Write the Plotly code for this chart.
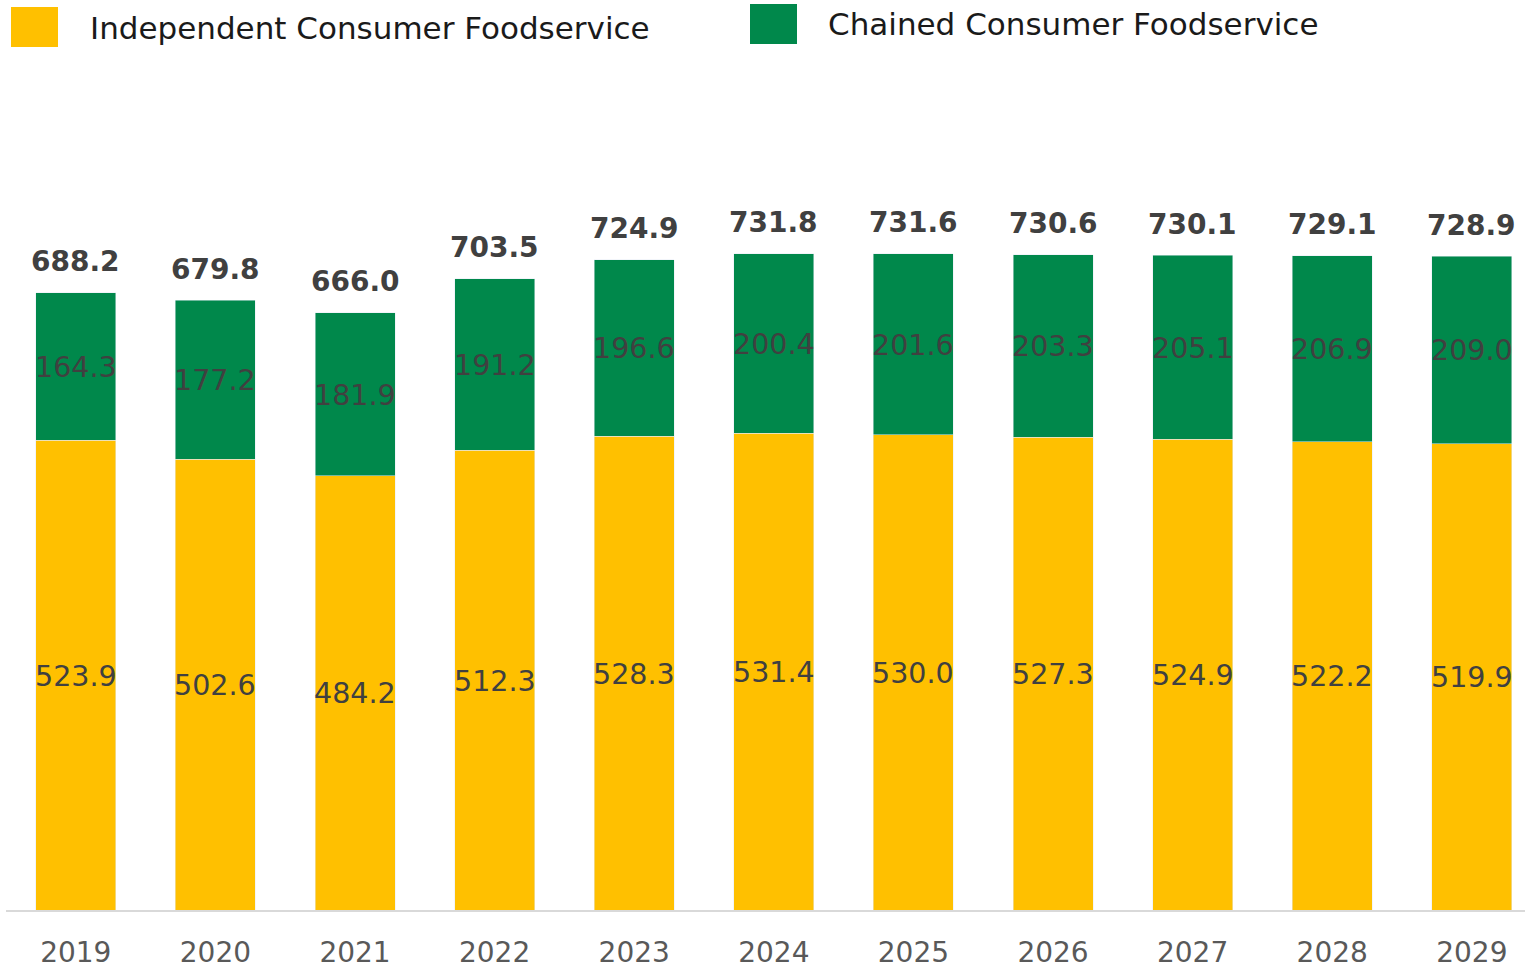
import plotly.graph_objects as go

years = ["2019", "2020", "2021", "2022", "2023", "2024", "2025", "2026", "2027", "2028", "2029"]
independent = [523.9, 502.6, 484.2, 512.3, 528.3, 531.4, 530.0, 527.3, 524.9, 522.2, 519.9]
chained = [164.3, 177.2, 181.9, 191.2, 196.6, 200.4, 201.6, 203.3, 205.1, 206.9, 209.0]
totals = [688.2, 679.8, 666.0, 703.5, 724.9, 731.8, 731.6, 730.6, 730.1, 729.1, 728.9]

YELLOW = "#FFC000"
GREEN = "#00884B"
LABEL = "#404040"
FONT = "DejaVu Sans"

x_idx = list(range(len(years)))

fig = go.Figure()
fig.add_trace(go.Bar(x=x_idx, y=independent, marker_color=YELLOW, width=0.573,
                     name="Independent Consumer Foodservice", showlegend=False))
fig.add_trace(go.Bar(x=x_idx, y=chained, marker_color=GREEN, width=0.573,
                     name="Chained Consumer Foodservice", showlegend=False))

# segment value labels at the middle of each stacked segment
for i, (a, b) in enumerate(zip(independent, chained)):
    fig.add_annotation(x=i, y=a / 2, text=f"{a:.1f}", showarrow=False, yshift=-1,
                       xanchor="center", yanchor="middle",
                       font=dict(family=FONT, size=28.5, color=LABEL))
    fig.add_annotation(x=i, y=a + b / 2, text=f"{b:.1f}", showarrow=False, yshift=-1,
                       xanchor="center", yanchor="middle",
                       font=dict(family=FONT, size=28.5, color=LABEL))

# bold totals above each bar
for i, t in enumerate(totals):
    fig.add_annotation(x=i, y=t, text=f"<b>{t:.1f}</b>", showarrow=False,
                       yshift=31, yanchor="middle", xanchor="center",
                       font=dict(family=FONT, size=28, color=LABEL))

# legend: colour squares with labels
fig.add_shape(type="rect", xref="paper", yref="paper", x0=(11 - 6) / 1519, x1=(58 - 6) / 1519,
              y0=1 + (100 - 47) / 810, y1=1 + (100 - 7) / 810,
              fillcolor=YELLOW, line_width=0)
fig.add_shape(type="rect", xref="paper", yref="paper", x0=(750 - 6) / 1519, x1=(797 - 6) / 1519,
              y0=1 + (100 - 44) / 810, y1=1 + (100 - 4) / 810,
              fillcolor=GREEN, line_width=0)
fig.add_annotation(xref="paper", yref="paper", x=(88 - 6) / 1519, y=1 + (100 - 28) / 810,
                   text="Independent Consumer Foodservice", showarrow=False,
                   xanchor="left", yanchor="middle",
                   font=dict(family=FONT, size=31, color="#1a1a1a"))
fig.add_annotation(xref="paper", yref="paper", x=(826 - 6) / 1519, y=1 + (100 - 24) / 810,
                   text="Chained Consumer Foodservice", showarrow=False,
                   xanchor="left", yanchor="middle",
                   font=dict(family=FONT, size=31, color="#1a1a1a"))

fig.update_layout(
    barmode="stack",
    width=1525, height=971,
    margin=dict(l=6, r=0, t=100, b=61, autoexpand=False),
    plot_bgcolor="white", paper_bgcolor="white",
    showlegend=False,
    xaxis=dict(range=[-0.5, 10.381], tickmode="array", tickvals=x_idx, ticktext=years,
               showgrid=False, zeroline=False, showline=True, linecolor="#D9D9D9", linewidth=2,
               ticks="", ticklabelstandoff=16,
               tickfont=dict(family=FONT, size=28, color="#595959")),
    yaxis=dict(range=[0, 903], visible=False, showgrid=False, zeroline=False),
)

fig.write_html("out.html")
